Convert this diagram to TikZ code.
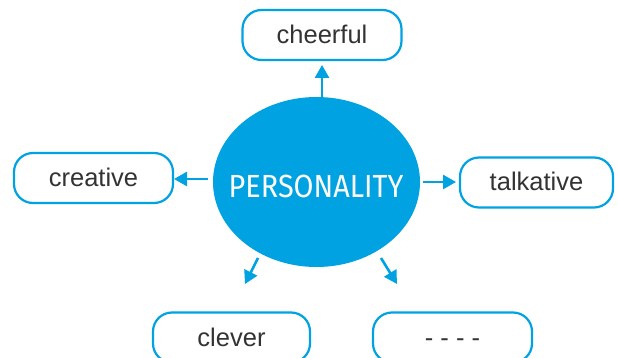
\documentclass[tikz,border=0pt]{standalone}
\usepackage{fontspec}
\setmainfont{Liberation Sans}
\newfontfamily\persfont[FakeStretch=0.9]{Fira Sans}
\usetikzlibrary{arrows.meta,shapes.geometric}
\definecolor{pblue}{HTML}{00A2E1}
\definecolor{txtgray}{HTML}{333333}
\tikzset{
  wordbox/.style={draw=pblue, line width=2.2pt, rounded corners=19pt, minimum width=157pt, minimum height=50pt, inner sep=0pt, text height=17pt, text depth=0pt, text=txtgray, font=\fontsize{25.5}{30}\selectfont, fill=white},
  link/.style={draw=pblue, line width=2.6pt, -{Triangle[length=13pt,width=14pt]}},
}
\begin{document}
\begin{tikzpicture}[x=1pt,y=-1pt]
\useasboundingbox (0,0) rectangle (618,358);
\clip (0,0) rectangle (618,358);
\node[ellipse, fill=pblue, minimum width=207pt, minimum height=170pt, inner sep=0pt] (core) at (316.5,182) {};
\node[text=white, font=\persfont\fontsize{32}{36}\selectfont, anchor=center] (pers) at (316,186) {PERSONALITY};
\node[wordbox, minimum width=159pt] (cheer) at (322,35) {cheerful};
\node[wordbox, minimum width=159pt] (crea) at (93.5,178) {creative};
\node[wordbox, minimum width=153pt] (talk) at (536.5,182.5) {talkative};
\node[wordbox, minimum width=157pt] (clev) at (231.5,337.5) {clever};
\node[wordbox, minimum width=159pt] (dash) at (452.5,337.5) {- - - -};
\coordinate (s1) at (322,97);
\coordinate (e1) at (322,65);
\coordinate (s2) at (208,179);
\coordinate (e2) at (174,179);
\coordinate (s3) at (423,182);
\coordinate (e3) at (456,182);
\coordinate (s4) at (258,258);
\coordinate (e4) at (245,284);
\coordinate (s5) at (381,258);
\coordinate (e5) at (397,284);
\draw[link] (s1) -- (e1);
\draw[link] (s2) -- (e2);
\draw[link] (s3) -- (e3);
\draw[link] (s4) -- (e4);
\draw[link] (s5) -- (e5);
\end{tikzpicture}
\end{document}
